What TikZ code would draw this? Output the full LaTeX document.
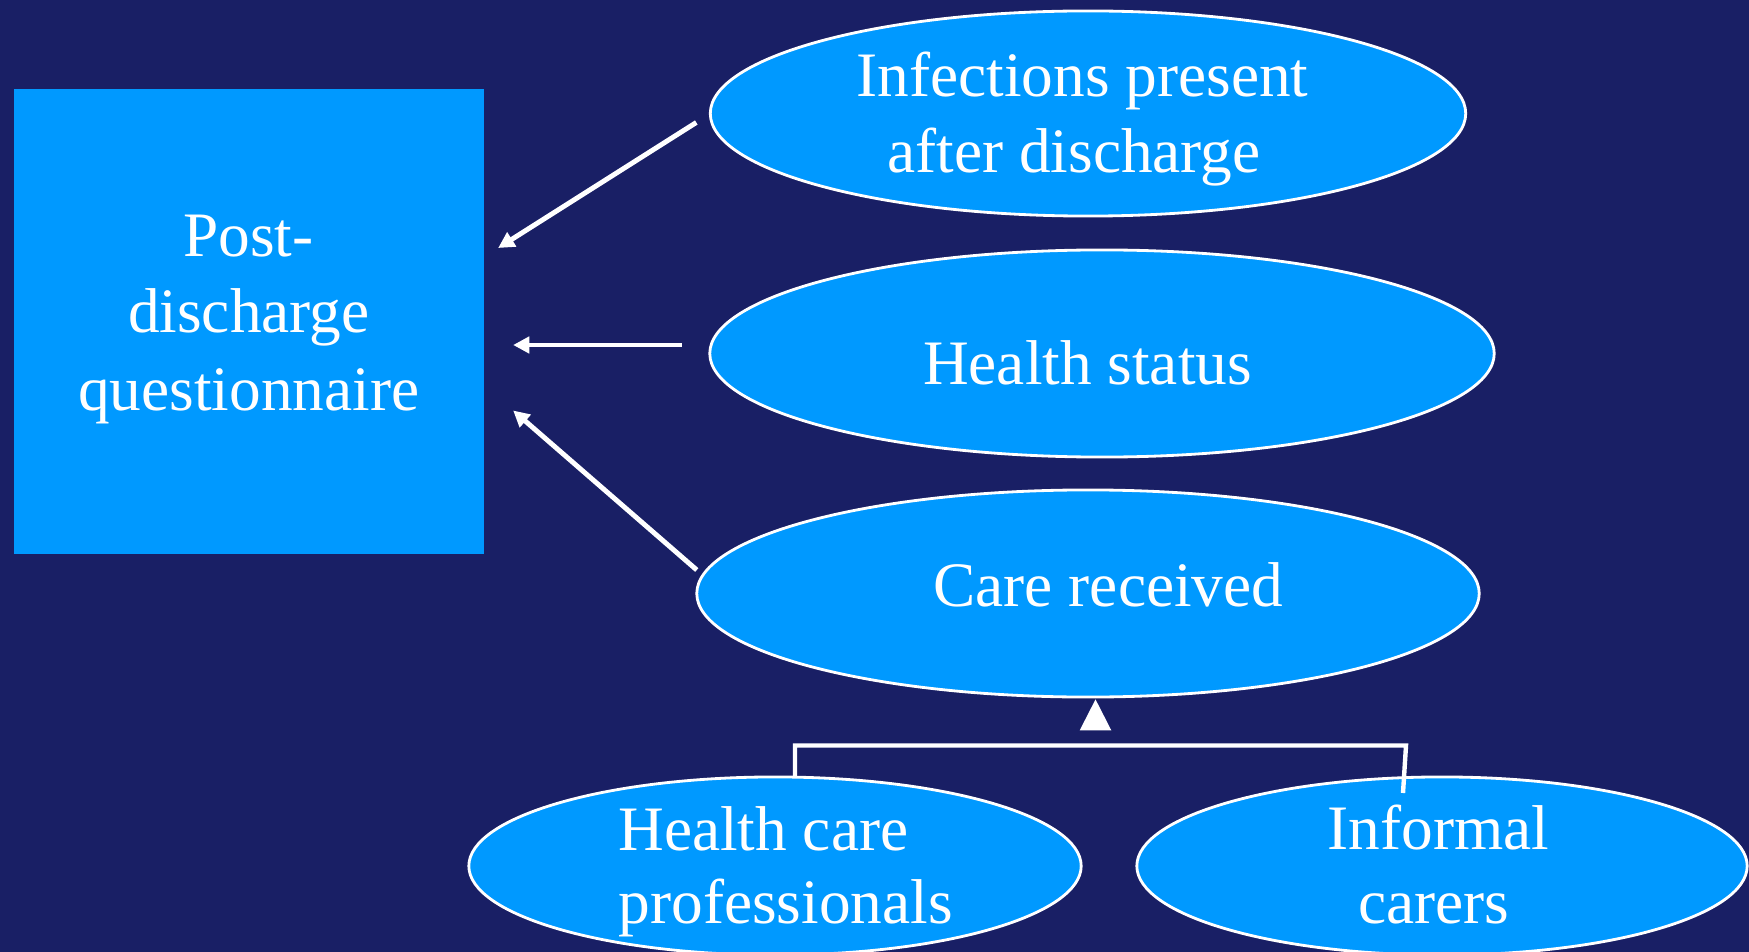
\documentclass[tikz,border=0pt]{standalone}
\usepackage{fontspec}
\setmainfont{Liberation Serif}
\usetikzlibrary{arrows.meta,calc,shapes.geometric}
\definecolor{navy}{RGB}{25,31,101}
\definecolor{sky}{RGB}{0,153,255}

\begin{document}
\begin{tikzpicture}[x=0.01cm,y=-0.01cm,
  oval/.style={ellipse,draw=white,line width=0.8pt,fill=sky,inner sep=0pt,outer sep=0pt},
  panel/.style={fill=sky,inner sep=0pt,outer sep=0pt},
  txt/.style={anchor=base,inner sep=0pt,outer sep=0pt,text=white,font=\fontsize{18}{21.6}\selectfont},
  arr/.style={draw=white,line width=1.4pt,-{Triangle[length=4.6pt,width=4.6pt]}},
  bracket/.style={draw=white,line width=1.25pt}
]
% background and page size
\fill[navy] (0,0) rectangle (1749,952);
\useasboundingbox (0,0) rectangle (1749,952);

% main box
\node[panel,minimum width=4.7cm,minimum height=4.65cm] (box) at (249,321.5) {};
\node[txt] (boxa) at (248.5,257) {Post-};
\node[txt] (boxb) at (248.8,333) {discharge};
\node[txt] (boxc) at (248.7,410) {questionnaire};

% factor ellipses
\node[oval,minimum width=7.55cm,minimum height=2.05cm] (inf) at (1088,113.5) {};
\node[oval,minimum width=7.84cm,minimum height=2.07cm] (health) at (1102,353.5) {};
\node[oval,minimum width=7.82cm,minimum height=2.07cm] (care) at (1088,593.5) {};
\node[oval,minimum width=6.12cm,minimum height=1.78cm] (prof) at (775,866) {};
\node[oval,minimum width=6.1cm,minimum height=1.78cm] (carers) at (1442,866) {};

\node[txt] (infa) at (1082.5,96.7) {Infections present};
\node[txt] (infb) at (1074,173) {after discharge};
\node[txt] (healtht) at (1087.5,385) {Health status};
\node[txt] (caret) at (1108.3,606.7) {Care received};
\node[txt] (profa) at (763.3,850) {Health care};
\node[txt] (profb) at (785.8,923) {professionals};
\node[txt] (carersa) at (1438.3,849) {Informal};
\node[txt] (carersb) at (1434,923) {carers};

% arrows into the questionnaire
\coordinate (a1s) at ($(inf.west)+(-14,9)$);
\coordinate (a1e) at ($(box.east)+(14,-73.5)$);
\coordinate (a2s) at ($(health.west)+(-28,-8.5)$);
\coordinate (a2e) at ($(box.east)+(29,23.5)$);
\coordinate (a3s) at ($(care.west)+(0,-23.5)$);
\coordinate (a3e) at ($(box.east)+(29,89)$);
\draw[arr] (a1s) -- (a1e);
\draw[arr] (a2s) -- (a2e);
\draw[arr] (a3s) -- (a3e);

% bracket joining the two kinds of care
\coordinate (bl) at ($(prof.north)+(20,0)$);
\coordinate (br) at ($(carers.center)+(-39,-73)$);
\coordinate (bt) at ($(br)+(3,-47.5)$);
\draw[bracket] (bl) |- (bt) -- (br);

% arrowhead up to care received
\coordinate (up) at ($(care.south)+(7.5,2.3)$);
\fill[white] (up) -- ++(-15.8,31) -- ++(31.6,0) -- cycle;
\end{tikzpicture}
\end{document}
